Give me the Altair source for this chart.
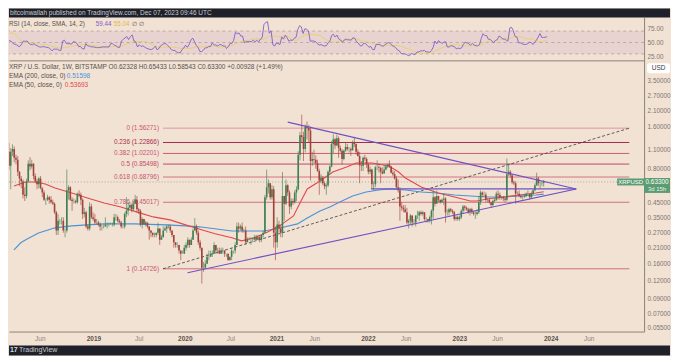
import altair as alt
import pandas as pd

FONT = "Liberation Sans"
BG = "#f2e2d4"
DARK = "#1e2129"
LINE = "#8b8179"
AXLAB = "#7d7570"
GREEN = "#3f7f52"
RED = "#a0433a"
BLUE = "#4b92d6"
EMA_RED = "#e4474a"
PURPLE = "#6f52c4"
RSI_PURPLE = "#8060c4"
RSI_YELLOW = "#e8cf72"
TXT = "#55504c"

W_FULL, W_PLOT = 663, 637
H_HEAD, H_RSI, H_MAIN, H_FOOT = 9, 43, 272, 10

# ---------------- weekly candles (Monday open dates) ----------------
first_open = 0.20
start_2017 = "2017-09-04"
close_2017 = [0.19,0.18,0.20,0.20,0.25,0.24,0.21,0.20,0.21,0.20,0.24,0.24,0.25,0.38,0.75,1.05,2.30]
high_2017 = [0.24,0.20,0.22,0.21,0.26,0.27,0.24,0.22,0.22,0.22,0.25,0.25,0.27,0.40,0.86,1.20,2.40]
low_2017 = [0.17,0.15,0.17,0.19,0.19,0.23,0.20,0.19,0.19,0.19,0.20,0.22,0.21,0.23,0.36,0.68,0.98]

start_2018 = "2018-01-01"
close_2018 = [2.03,1.50,1.40,1.05,0.83, 1.05,1.10,0.95,0.92, 0.75,0.67,0.64,0.51, 0.50,0.64,0.86,0.82,0.86,
              0.70,0.64,0.61,0.67, 0.57,0.53,0.47,0.47, 0.49,0.47,0.45,0.44,0.38, 0.28,0.33,0.33,0.33,
              0.28,0.28,0.55,0.58, 0.47,0.46,0.46,0.45,0.52, 0.51,0.47,0.37,0.38, 0.30,0.29,0.42,0.35,0.34]
high_2018 = [3.31,2.30,1.90,1.58,1.22, 1.12,1.19,1.15,1.00, 0.98,0.76,0.70,0.66, 0.58,0.67,0.91,0.96,0.92,
             0.87,0.73,0.67,0.69, 0.70,0.58,0.55,0.48, 0.51,0.50,0.50,0.47,0.45, 0.39,0.37,0.34,0.35,
             0.35,0.29,0.78,0.60, 0.59,0.49,0.48,0.47,0.53, 0.55,0.53,0.48,0.41, 0.39,0.31,0.45,0.44,0.38]
low_2018 = [1.97,1.10,0.95,1.00,0.78, 0.56,0.98,0.88,0.85, 0.70,0.59,0.57,0.48, 0.46,0.48,0.63,0.77,0.79,
            0.66,0.62,0.56,0.57, 0.56,0.49,0.46,0.43, 0.46,0.44,0.44,0.43,0.37, 0.26,0.26,0.31,0.31,
            0.27,0.25,0.27,0.47, 0.46,0.39,0.44,0.44,0.44, 0.49,0.43,0.34,0.35, 0.29,0.28,0.28,0.34,0.33]

start_2019 = "2019-01-07"
close_2019 = [0.32,0.32,0.31,0.30, 0.30,0.30,0.31,0.31, 0.31,0.31,0.31,0.35, 0.35,0.33,0.32,0.30,0.30,
              0.37,0.39,0.41,0.43, 0.40,0.44,0.47,0.40, 0.39,0.31,0.34,0.31,0.32, 0.30,0.28,0.27,0.26,
              0.26,0.27,0.29,0.24,0.25, 0.28,0.29,0.30,0.30, 0.28,0.26,0.23,0.22, 0.22,0.20,0.19,0.19,0.21]
high_2019 = [0.37,0.34,0.33,0.32, 0.31,0.31,0.35,0.32, 0.32,0.32,0.32,0.37, 0.37,0.36,0.34,0.33,0.31,
             0.38,0.49,0.45,0.45, 0.44,0.46,0.51,0.50, 0.41,0.40,0.35,0.34,0.33, 0.32,0.30,0.28,0.27,
             0.27,0.27,0.32,0.29,0.26, 0.30,0.30,0.31,0.31, 0.31,0.28,0.26,0.23, 0.23,0.22,0.20,0.20,0.22]
low_2019 = [0.31,0.31,0.30,0.28, 0.28,0.29,0.30,0.29, 0.30,0.31,0.30,0.30, 0.33,0.32,0.32,0.29,0.29,
            0.29,0.35,0.36,0.40, 0.38,0.39,0.44,0.38, 0.37,0.30,0.29,0.31,0.30, 0.29,0.24,0.25,0.25,
            0.25,0.25,0.26,0.22,0.24, 0.25,0.28,0.27,0.29, 0.27,0.25,0.21,0.21, 0.21,0.19,0.17,0.19,0.19]

start_2020 = "2020-01-06"
close_2020 = [0.22,0.24,0.22,0.24, 0.28,0.30,0.27,0.23, 0.21,0.15,0.15,0.16,0.18, 0.18,0.19,0.19,0.22,
              0.20,0.20,0.19,0.20, 0.20,0.19,0.19,0.17,0.18, 0.20,0.20,0.22,0.30, 0.29,0.30,0.28,0.28,0.23,
              0.24,0.24,0.24,0.24, 0.25,0.24,0.25,0.24, 0.26,0.27,0.49,0.58,0.62, 0.49,0.56,0.27,0.23]
high_2020 = [0.23,0.25,0.24,0.25, 0.29,0.345,0.31,0.28, 0.24,0.21,0.165,0.17,0.19, 0.20,0.20,0.20,0.23,
             0.22,0.21,0.21,0.21, 0.21,0.20,0.19,0.19,0.18, 0.21,0.20,0.23,0.32, 0.32,0.31,0.32,0.29,0.30,
             0.25,0.25,0.25,0.25, 0.26,0.26,0.26,0.26, 0.26,0.28,0.51,0.78,0.66, 0.62,0.60,0.59,0.30]
low_2020 = [0.20,0.21,0.21,0.22, 0.24,0.28,0.26,0.22, 0.20,0.115,0.14,0.15,0.16, 0.17,0.18,0.18,0.19,
            0.19,0.19,0.19,0.19, 0.19,0.18,0.18,0.17,0.17, 0.17,0.19,0.19,0.22, 0.27,0.28,0.27,0.27,0.22,
            0.23,0.24,0.22,0.23, 0.24,0.24,0.24,0.23, 0.23,0.25,0.27,0.47,0.52, 0.47,0.47,0.21,0.17]

start_2021 = "2021-01-04"
close_2021 = [0.31,0.29,0.27,0.50, 0.44,0.60,0.53,0.42, 0.46,0.45,0.53,0.56,1.00, 1.39,1.35,1.10,1.60,
              1.57,1.50,0.90,0.93,0.92, 0.87,0.76,0.65,0.68, 0.62,0.59,0.60,0.75, 0.82,1.20,1.30,1.17,1.32,
              1.12,1.07,0.93,1.07, 1.14,1.10,1.10,1.08, 1.23,1.20,1.05,0.98,0.84, 0.83,0.95,0.93,0.85]
high_2021 = [0.35,0.33,0.31,0.75, 0.50,0.66,0.61,0.55, 0.48,0.48,0.55,0.59,1.06, 1.47,1.96,1.47,1.66,
             1.75,1.65,1.60,1.05,1.09, 0.99,0.92,0.79,0.72, 0.70,0.64,0.62,0.77, 0.84,1.26,1.41,1.33,1.40,
             1.36,1.17,1.10,1.09, 1.23,1.20,1.14,1.13, 1.27,1.35,1.21,1.10,1.05, 0.90,0.97,1.00,0.96]
low_2021 = [0.21,0.27,0.25,0.25, 0.33,0.43,0.50,0.37, 0.40,0.43,0.44,0.46,0.55, 0.91,1.24,0.90,1.04,
            1.29,1.24,0.65,0.83,0.86, 0.79,0.75,0.51,0.62, 0.60,0.56,0.51,0.58, 0.71,0.81,1.03,1.10,1.16,
            0.95,1.04,0.85,0.91, 1.05,1.07,1.04,0.98, 1.07,1.14,1.00,0.97,0.62, 0.76,0.76,0.90,0.80]

start_2022 = "2022-01-03"
close_2022 = [0.75,0.78,0.61,0.61,0.81, 0.81,0.80,0.75,0.73, 0.78,0.82,0.85,0.82, 0.74,0.72,0.67,0.58,
              0.55,0.42,0.41,0.40,0.38, 0.32,0.33,0.36,0.32, 0.32,0.36,0.36,0.38, 0.37,0.38,0.34,0.34,0.33,
              0.35,0.39,0.49,0.44, 0.50,0.47,0.45,0.47,0.48, 0.38,0.38,0.40,0.39, 0.38,0.34,0.35,0.34]
high_2022 = [0.87,0.82,0.79,0.64,0.83, 0.91,0.86,0.82,0.81, 0.84,0.84,0.86,0.91, 0.83,0.77,0.76,0.70,
             0.66,0.58,0.45,0.43,0.43, 0.41,0.34,0.37,0.36, 0.34,0.36,0.39,0.39, 0.39,0.39,0.38,0.35,0.34,
             0.36,0.40,0.55,0.50, 0.55,0.50,0.47,0.48,0.52, 0.49,0.40,0.41,0.41, 0.40,0.39,0.36,0.36]
low_2022 = [0.72,0.72,0.56,0.55,0.58, 0.77,0.74,0.62,0.72, 0.73,0.77,0.80,0.80, 0.73,0.70,0.66,0.57,
            0.53,0.33,0.39,0.38,0.38, 0.31,0.29,0.31,0.30, 0.31,0.30,0.34,0.33, 0.36,0.36,0.33,0.32,0.32,
            0.32,0.31,0.34,0.42, 0.44,0.45,0.44,0.45,0.43, 0.32,0.36,0.36,0.38, 0.37,0.33,0.33,0.33]

start_2023 = "2023-01-02"
close_2023 = [0.35,0.39,0.42,0.41,0.40, 0.38,0.40,0.38,0.37, 0.37,0.38,0.45,0.53, 0.51,0.51,0.47,0.47,
              0.45,0.43,0.46,0.47,0.52, 0.51,0.49,0.49,0.48, 0.47,0.72,0.75,0.71,0.63, 0.62,0.52,0.52,0.50,
              0.49,0.49,0.50,0.52, 0.52,0.49,0.52,0.55,0.60, 0.67,0.62,0.62,0.6233, 0.633]
high_2023 = [0.36,0.40,0.43,0.43,0.42, 0.41,0.41,0.41,0.39, 0.39,0.40,0.50,0.55, 0.54,0.54,0.53,0.48,
             0.48,0.45,0.47,0.48,0.54, 0.55,0.53,0.50,0.50, 0.49,0.94,0.86,0.77,0.71, 0.65,0.64,0.54,0.55,
             0.51,0.50,0.52,0.53, 0.55,0.52,0.54,0.56,0.62, 0.74,0.69,0.64,0.64, 0.65433]
low_2023 = [0.33,0.34,0.37,0.39,0.39, 0.37,0.36,0.37,0.36, 0.34,0.36,0.37,0.43, 0.49,0.49,0.45,0.45,
            0.44,0.41,0.42,0.45,0.46, 0.47,0.47,0.47,0.46, 0.45,0.46,0.70,0.68,0.61, 0.60,0.44,0.51,0.49,
            0.48,0.47,0.49,0.49, 0.51,0.47,0.48,0.51,0.54, 0.59,0.59,0.57,0.59, 0.58543]

# ---------------- indicators ----------------
ema200_dates = ["2018-02-18","2018-03-17","2018-04-06","2018-05-27","2018-08-01","2018-10-07","2018-12-08",
                "2019-02-13","2019-06-11","2019-10-18","2020-01-04","2020-02-28","2020-07-07","2020-11-13",
                "2021-01-19","2021-03-26","2021-05-04","2021-06-24","2021-08-02","2021-09-11","2021-11-01",
                "2021-12-25","2022-02-14","2022-03-26","2022-05-31","2022-08-02","2022-10-08","2022-12-13",
                "2023-02-14","2023-04-22","2023-06-27","2023-08-29","2023-11-03","2023-12-04"]
ema200_vals = [0.2025,0.228,0.2395,0.269,0.293,0.303,0.308,0.313,0.313,0.308,0.303,0.298,0.278,0.278,
               0.293,0.313,0.346,0.389,0.416,0.453,0.5006,0.535,0.553,0.563,0.553,0.535,0.526,0.509,
               0.5006,0.492,0.492,0.50,0.509,0.516]
ema50_dates = ["2018-02-18","2018-04-06","2018-05-15","2018-06-23","2018-08-01","2018-10-07","2018-12-08",
               "2019-02-13","2019-04-21","2019-06-22","2019-08-28","2019-11-03","2020-01-04","2020-03-11",
               "2020-05-01","2020-07-07","2020-08-15","2020-10-05","2020-11-29","2021-01-19","2021-03-10",
               "2021-04-07","2021-05-04","2021-06-24","2021-08-14","2021-10-08","2021-11-16","2022-01-18",
               "2022-03-26","2022-05-04","2022-05-31","2022-08-02","2022-10-08","2022-12-13","2023-02-14",
               "2023-03-13","2023-04-22","2023-06-27","2023-08-29","2023-11-03","2023-12-04"]
ema50_vals = [0.592,0.633,0.633,0.612,0.572,0.526,0.484,0.445,0.416,0.383,0.352,0.335,0.308,0.283,
              0.265,0.248,0.2356,0.248,0.274,0.308,0.358,0.453,0.563,0.643,0.748,0.813,0.870,0.870,
              0.827,0.748,0.676,0.582,0.526,0.492,0.460,0.460,0.476,0.492,0.509,0.526,0.537]

# ---------------- drawings ----------------
fib_ratio = ["0", "0.236", "0.382", "0.5", "0.618", "0.786", "1"]
fib_price = [1.56271, 1.22866, 1.02201, 0.85498, 0.68796, 0.45017, 0.14726]
fib_color = ["#dc98a2", "#a52a4c", "#cf5b74", "#c2456a", "#d4717f", "#d0707e", "#d0707e"]
fib_text_color = ["#c75670", "#a8304f", "#c75670", "#c24a68", "#c75670", "#c75670", "#c75670"]
fib_start, fib_end = "2019-10-06", "2024-11-10"

tl_id = ["upper", "upper", "lower", "lower", "flat", "flat"]
tl_dates = ["2021-02-15", "2024-04-12", "2020-01-12", "2024-04-12", "2022-01-14", "2024-04-12"]
tl_prices = [1.728, 0.5628, 0.1378, 0.5628, 0.5628, 0.5628]

last_price = 0.633
price_ticks = [3.5, 2.7, 2.1, 1.6, 1.1, 0.8, 0.45, 0.35, 0.27, 0.21, 0.16, 0.12, 0.09, 0.07, 0.055]
rsi_ticks = [25, 50, 75]
rsi_levels = [70, 50, 30]
time_ticks = [(2018, 6, 1), (2019, 1, 1), (2019, 7, 1), (2020, 1, 1), (2020, 7, 1), (2021, 1, 1),
              (2021, 6, 1), (2022, 1, 1), (2022, 6, 1), (2023, 1, 1), (2023, 6, 1), (2024, 1, 1), (2024, 6, 1)]
view_start, view_end = (2018, 2, 18), (2024, 12, 19)

header_text = "bitcoinwallah published on TradingView.com, Dec 07, 2023 09:46 UTC"
title_text = "XRP / U.S. Dollar, 1W, BITSTAMP  O0.62328 H0.65433 L0.58543 C0.63300 +0.00928 (+1.49%)"

# ---------------- build tables ----------------
frames = []
for start, c, h, l in [(start_2017, close_2017, high_2017, low_2017), (start_2018, close_2018, high_2018, low_2018),
                       (start_2019, close_2019, high_2019, low_2019), (start_2020, close_2020, high_2020, low_2020),
                       (start_2021, close_2021, high_2021, low_2021), (start_2022, close_2022, high_2022, low_2022),
                       (start_2023, close_2023, high_2023, low_2023)]:
    n = min(len(c), len(h), len(l))
    frames.append(pd.DataFrame({"date": pd.date_range(start, periods=n, freq="7D"),
                                "close": c[:n], "high": h[:n], "low": l[:n]}))
cd = pd.concat(frames, ignore_index=True)
cd["open"] = cd["close"].shift(1).fillna(first_open)
cd["high"] = cd[["high", "open", "close"]].max(axis=1)
cd["low"] = cd[["low", "open", "close"]].min(axis=1)
cd["dir"] = ["up" if c >= o else "down" for o, c in zip(cd["open"], cd["close"])]

delta = cd["close"].diff()
ag = delta.clip(lower=0).ewm(alpha=1 / 14, adjust=False).mean()
al = (-delta).clip(lower=0).ewm(alpha=1 / 14, adjust=False).mean()
cd["rsi"] = 100 - 100 / (1 + ag / al)
cd["sma"] = cd["rsi"].rolling(14).mean()
cd["date"] = cd["date"].dt.strftime("%Y-%m-%d")
rsi_df = cd.dropna(subset=["rsi"])
sma_df = cd.dropna(subset=["sma"])

ema200 = pd.DataFrame({"date": ema200_dates, "v": ema200_vals[:len(ema200_dates)]})
ema50 = pd.DataFrame({"date": ema50_dates, "v": ema50_vals[:len(ema50_dates)]})
fib = pd.DataFrame({"date": fib_start, "date2": fib_end, "price": fib_price, "ratio": fib_ratio,
                    "label": [f"{r} ({p:.5f})" for r, p in zip(fib_ratio, fib_price)]})
fib_diag = pd.DataFrame({"date": [fib_start, fib_end], "price": [fib_price[-1], fib_price[0]]})
tl = pd.DataFrame({"id": tl_id, "date": tl_dates, "price": tl_prices})
lp = pd.DataFrame({"p": [last_price]})


def dt(t):
    return alt.DateTime(year=t[0], month=t[1], date=t[2], utc=True)


XS = alt.Scale(type="utc", domain=[dt(view_start), dt(view_end)])
XAX = alt.Axis(values=[dt(t) for t in time_ticks], title=None, grid=False, ticks=False, tickSize=0,
               labelExpr="utcmonth(datum.value) == 0 ? utcFormat(datum.value, '%Y') : utcFormat(datum.value, '%b')",
               labelColor={"condition": {"test": "utcmonth(datum.value) == 0", "value": "#5a524c"}, "value": "#8a827b"},
               labelFontWeight={"condition": {"test": "utcmonth(datum.value) == 0", "value": "bold"}, "value": "normal"},
               labelFontSize=6.5, labelFont=FONT, labelPadding=4, domainColor=LINE, domainWidth=1,
               minExtent=14, maxExtent=14, labelOverlap=False, labelFlush=False, labelBound=False)
YS = alt.Scale(type="log", domain=[0.05133, 4.88], nice=False)
YAX = alt.Axis(orient="right", values=price_ticks, format=".5f", title=None, grid=False, ticks=False, tickSize=0,
               labelFontSize=6.4, labelFont=FONT, labelColor=AXLAB, labelPadding=3, domainColor=LINE,
               minExtent=26, maxExtent=26, labelOverlap=False, labelFlush=False, labelBound=False)


def xe(f="date"):
    return alt.X(f + ":T", scale=XS, axis=XAX)


def ye(f):
    return alt.Y(f + ":Q", scale=YS, axis=YAX)


def label(text, x, y, color, size=6.5, weight="normal", align="left"):
    return alt.Chart(pd.DataFrame({"t": [text]})).mark_text(
        align=align, baseline="middle", font=FONT, fontSize=size, fontWeight=weight, color=color
    ).encode(x=alt.value(x), y=alt.value(y), text="t:N")


# ---------------- header / footer ----------------
header = label(header_text, 1, 4.5, "#c9ccd4", 6.5).properties(
    width=W_FULL, height=H_HEAD, view=alt.ViewBackground(fill=DARK, strokeWidth=0))
footer = alt.layer(
    label("17", 1, 5, "#d8dae0", 7, "bold"),
    label("TradingView", 10, 5, "#c9ccd4", 7),
).properties(width=W_FULL, height=H_FOOT, view=alt.ViewBackground(fill=DARK, strokeWidth=0))

# ---------------- RSI panel ----------------
RXAX = alt.Axis(labels=False, ticks=False, tickSize=0, grid=False, title=None, domainColor=LINE,
                minExtent=0, maxExtent=0)
RYS = alt.Scale(domain=[18.75, 93.75], nice=False, zero=False)
RYAX = alt.Axis(orient="right", values=rsi_ticks, format=".2f", title=None, grid=False, ticks=False, tickSize=0,
                labelFontSize=6.4, labelFont=FONT, labelColor=AXLAB, labelPadding=3, domainColor=LINE,
                minExtent=26, maxExtent=26, labelOverlap=False, labelFlush=False, labelBound=False)


def rx(f="date"):
    return alt.X(f + ":T", scale=XS, axis=RXAX)


def ry(f):
    return alt.Y(f + ":Q", scale=RYS, axis=RYAX)


band = pd.DataFrame({"date": ["2018-02-18"], "date2": ["2024-12-19"], "top": [rsi_levels[0]], "bot": [rsi_levels[-1]]})
rsi = alt.layer(
    alt.Chart(band).mark_rect(color="#e6cfd0", opacity=0.8).encode(x=rx(), x2="date2:T", y=ry("top"), y2="bot:Q"),
    alt.Chart(pd.DataFrame({"lv": rsi_levels})).mark_rule(color="#a69a9a", strokeDash=[3, 3], strokeWidth=0.7).encode(y=ry("lv")),
    alt.Chart(sma_df).mark_line(color=RSI_YELLOW, strokeWidth=1, clip=True).encode(x=rx(), y=ry("sma")),
    alt.Chart(rsi_df).mark_line(color=RSI_PURPLE, strokeWidth=0.9, clip=True).encode(x=rx(), y=ry("rsi")),
    label("RSI (14, close, SMA, 14, 2)", 0, 7, TXT, 6.3),
    label("59.44", 87, 7, RSI_PURPLE, 6.3),
    label("55.04", 105, 7, "#d9b94a", 6.3),
    label("\u2205", 123, 7, TXT, 6.3),
    label("\u2205", 130, 7, TXT, 6.3),
).properties(width=W_PLOT, height=H_RSI)

# ---------------- main panel ----------------
main = alt.layer(
    alt.Chart(lp).mark_rule(color="#8f9a90", strokeDash=[1, 2], strokeWidth=0.8).encode(y=ye("p")),
    alt.Chart(fib).mark_rule(strokeWidth=1).encode(
        x=xe(), x2="date2:T", y=ye("price"),
        color=alt.Color("ratio:N", scale=alt.Scale(domain=fib_ratio, range=fib_color), legend=None)),
    alt.Chart(fib).mark_text(align="right", baseline="middle", dx=-4, font=FONT, fontSize=6.4).encode(
        x=xe(), y=ye("price"), text="label:N",
        color=alt.Color("label:N", scale=alt.Scale(domain=list(fib["label"]), range=fib_text_color), legend=None)),
    alt.Chart(fib_diag).mark_line(color="#3c3a3a", strokeDash=[3, 2], strokeWidth=0.8).encode(x=xe(), y=ye("price")),
    alt.Chart(ema200).mark_line(color=BLUE, strokeWidth=1.1, clip=True).encode(x=xe(), y=ye("v")),
    alt.Chart(ema50).mark_line(color=EMA_RED, strokeWidth=1.1, clip=True).encode(x=xe(), y=ye("v")),
    alt.Chart(cd).mark_rule(strokeWidth=0.75, opacity=0.85, clip=True).encode(
        x=xe(), y=ye("low"), y2="high:Q",
        color=alt.Color("dir:N", scale=alt.Scale(domain=["up", "down"], range=[GREEN, RED]), legend=None)),
    alt.Chart(cd).mark_bar(size=1.6, clip=True).encode(
        x=xe(), y=ye("open"), y2="close:Q",
        color=alt.Color("dir:N", scale=alt.Scale(domain=["up", "down"], range=[GREEN, RED]), legend=None)),
    alt.Chart(tl).mark_line(color=PURPLE, strokeWidth=1.2).encode(x=xe(), y=ye("price"), detail="id:N"),
    # last price tags
    alt.Chart(lp).mark_rect(color="#5b9c72", yOffset=-3.5, y2Offset=3.5).encode(
        x=alt.value(610), x2=alt.value(637), y=ye("p"), y2="p:Q"),
    alt.Chart(lp).mark_text(text="XRPUSD", color="white", font=FONT, fontSize=6, baseline="middle").encode(
        x=alt.value(623.5), y=ye("p")),
    alt.Chart(lp).mark_rect(color="#5b9c72", yOffset=-4, y2Offset=11).encode(
        x=alt.value(637), x2=alt.value(663), y=ye("p"), y2="p:Q"),
    alt.Chart(lp).mark_text(color="white", font=FONT, fontSize=6.4, baseline="middle").encode(
        x=alt.value(650), y=ye("p"), text=alt.Text("p:Q", format=".5f")),
    alt.Chart(lp).mark_text(text="3d 15h", color="#e8f2ea", font=FONT, fontSize=6, baseline="middle", dy=7).encode(
        x=alt.value(650), y=ye("p")),
    # USD box
    alt.Chart(lp).mark_rect(color="white", cornerRadius=2).encode(
        x=alt.value(640), x2=alt.value(663), y=alt.value(3), y2=alt.value(13)),
    label("USD", 651.5, 8, "#3a3a3a", 6.5, align="center"),
    # legend texts
    label(title_text, 0, 7, TXT),
    label("EMA (200, close, 0)", 0, 16, TXT),
    label("0.51598", 58, 16, BLUE),
    label("EMA (50, close, 0)", 0, 24.5, TXT),
    label("0.53693", 56, 24.5, EMA_RED),
).resolve_scale(color="independent").properties(width=W_PLOT, height=H_MAIN)

chart = alt.vconcat(header, rsi, main, footer, spacing=0).properties(
    padding=0, background=BG).configure_view(strokeWidth=0)

chart.save("out.html", embed_options={"renderer": "svg", "actions": False})
